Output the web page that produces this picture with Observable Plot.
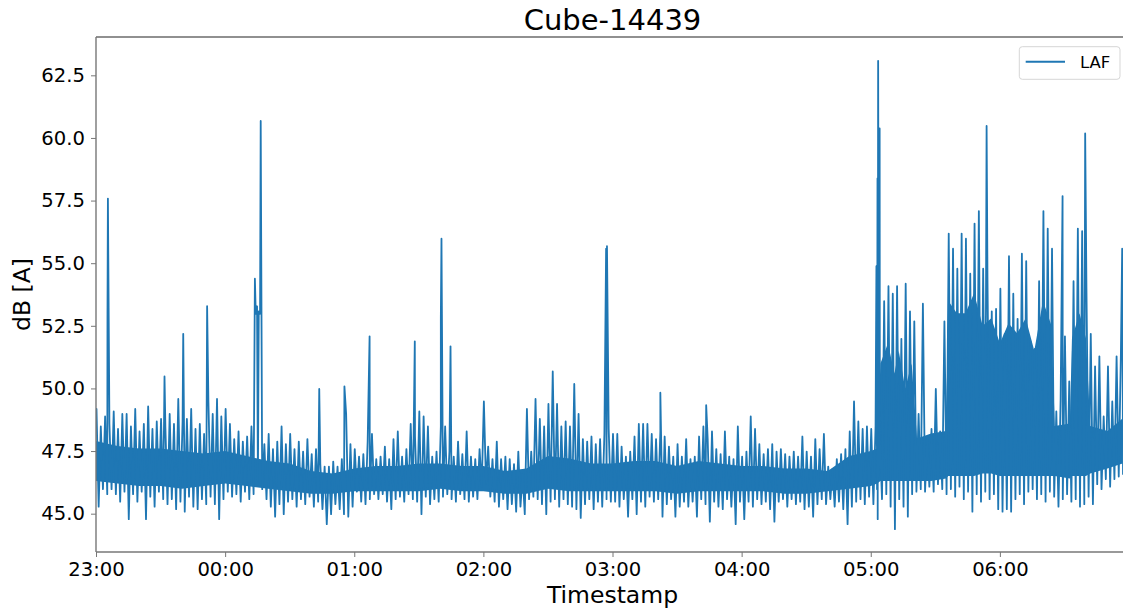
<!DOCTYPE html>
<html><head><meta charset="utf-8">
<script src="https://cdn.jsdelivr.net/npm/d3@7"></script>
<script src="https://cdn.jsdelivr.net/npm/@observablehq/plot@0.6"></script>
<style>
html,body{margin:0;padding:0;overflow:hidden;background:#fff;}
#chart{width:1123px;height:612px;overflow:hidden;}
#chart svg{max-width:none !important;width:1130px !important;height:612px !important;display:block;}
</style></head><body><div id="chart"></div>
<script>
// ---- texts ----
const chartTitle = "Cube-14439";
const seriesName = "LAF";
const xLabel = "Timestamp";
const yLabel = "dB [A]";
const xTickLabels = ["23:00","00:00","01:00","02:00","03:00","04:00","05:00","06:00"];
const yTicks = [45.0, 47.5, 50.0, 52.5, 55.0, 57.5, 60.0, 62.5];
const yDomain = [43.47, 64.03];

// ---- series: envelope of LAF read per 2-minute step (hi at minute 2k, lo at 2k+1), per hour from 23:00 ----
const hi23 = [49.2,48.5,48.9,48.6,49.1,48.4,49.0,49.0,48.5,49.2,48.3,48.6,49.3,48.4,48.7,48.8,48.5,49.0,48.6,49.6,48.7,48.8,49.2,48.4,48.6,48.2,49.5,49.0,49.6,48.9];
const lo23 = [45.3,46.0,45.8,46.0,45.8,45.5,45.9,44.8,45.8,45.5,45.9,44.8,45.7,45.3,45.9,45.6,45.4,45.6,45.2,45.5,45.1,45.7,45.3,45.2,45.6,45.4,45.7,45.4,44.8,45.6];
const hi00 = [49.2,48.6,48.0,48.3,47.9,48.1,48.5,53.0,53.0,47.8,48.2,47.6,47.9,48.5,47.8,48.2,47.6,47.9,47.5,48.0,47.4,47.6,47.0,46.9,46.9,47.1,46.9,47.2,49.0,47.8];
const lo00 = [45.9,45.7,45.8,45.5,45.9,45.6,45.8,46.3,46.0,45.6,45.3,44.9,45.4,45.0,45.5,45.6,45.3,45.6,45.4,45.7,45.3,45.5,45.2,44.6,45.0,45.4,45.2,45.0,44.9,45.3];
const hi01 = [47.6,47.3,47.4,47.9,48.2,47.2,47.3,47.7,47.2,48.0,48.3,47.3,47.6,48.6,48.1,49.1,48.9,48.5,47.3,47.5,48.5,48.5,47.5,47.3,47.9,47.4,48.3,47.3,47.2,47.6];
const lo01 = [45.9,45.5,45.4,45.6,45.8,45.6,45.8,45.5,45.2,45.6,45.7,45.5,45.8,45.6,45.5,45.0,45.7,45.4,45.6,45.5,45.7,45.8,45.6,45.5,45.8,45.6,45.5,45.7,45.6,46.1];
const hi02 = [49.5,47.7,47.2,47.9,47.2,47.3,47.2,47.0,47.5,46.6,49.2,47.5,49.6,48.8,48.5,49.4,50.7,49.4,48.5,48.7,48.5,50.2,49.0,48.0,47.9,48.1,47.8,48.0,48.2,48.4];
const lo02 = [46.2,45.7,45.5,45.3,45.6,45.2,45.4,45.1,45.3,45.0,45.6,45.7,45.6,45.4,45.0,45.5,45.6,45.3,45.6,45.4,45.3,45.2,44.85,45.4,45.6,45.2,45.5,45.3,45.6,45.5];
const hi03 = [48.2,48.2,47.7,47.3,47.5,48.1,48.6,48.6,48.6,48.2,48.0,48.3,48.1,47.7,47.3,47.8,47.3,48.0,47.2,47.3,48.1,48.5,48.0,48.3,47.6,47.4,48.3,47.3,47.2,48.5];
const lo03 = [45.5,45.3,45.6,44.9,45.6,45.0,45.5,45.3,45.7,45.5,45.6,44.9,45.4,45.6,44.9,45.3,45.5,45.3,45.5,44.9,45.6,45.4,44.7,45.5,45.3,45.2,45.6,45.3,44.6,45.5];
const hi04 = [47.3,47.5,48.9,48.4,47.8,47.4,47.6,47.8,47.5,47.6,47.4,47.3,47.5,47.3,48.1,47.5,47.3,48.0,47.6,48.2,46.9,46.8,47.2,47.4,47.6,48.3,49.5,48.7,48.4,48.5];
const lo04 = [44.8,45.5,45.3,45.6,45.4,45.5,45.2,44.7,45.5,45.6,45.3,45.6,45.4,45.5,45.2,45.3,44.9,45.4,45.6,45.4,45.6,45.3,45.5,45.2,44.6,45.3,45.5,45.6,45.4,45.7];
const hi05 = [48.4,48.5,48.0,53.5,54.1,53.8,54.1,52.0,54.2,53.1,52.7,49.0,53.4,48.0,48.4,50.0,48.3,52.7,56.2,55.6,54.8,56.2,56.0,54.6,56.6,57.1,54.8,54.5,53.1,53.2];
const lo05 = [45.4,44.8,45.6,45.8,45.3,44.4,45.6,45.3,44.9,45.8,45.9,46.0,45.9,46.1,45.9,46.2,46.0,45.8,46.0,45.7,46.1,45.6,45.9,45.1,45.8,45.5,45.9,45.6,45.8,45.2];
const hi06 = [54.0,52.2,55.3,53.8,52.8,55.4,55.1,51.9,51.6,54.3,57.1,56.4,55.6,49.1,49.6,52.1,50.3,54.3,56.4,56.3,54.0,52.2,50.9,51.3,48.9,50.9,49.5,51.3,51.4];
const lo06 = [45.1,45.2,45.1,45.6,45.8,45.4,45.9,46.0,45.6,45.8,45.5,45.9,45.7,45.3,45.6,45.8,45.5,45.6,45.3,45.4,45.7,45.4,46.2,46.0,46.4,46.1,46.4,46.5,46.6];

// isolated peaks: [minutes after 23:00, dB]
const spikes = [[5.1,52.8],[5.3,57.6],[31.6,50.5],[40.3,52.2],[51.4,53.3],[73.6,54.4],[74.6,53.3],[75.4,53.1],[76.3,60.7],
  [103.5,50.0],[115.2,50.1],[126.9,52.1],[147.9,51.9],[160.0,52.8],[160.3,56.0],[164.5,51.7],[236.8,55.6],[237.2,55.7],
  [262.0,49.85],[283.3,49.35],[362.4,54.9],[362.7,46.0],[362.9,58.4],[363.2,63.1],[363.6,46.5],[363.9,60.4],
  [413.6,60.5],[448.9,57.7],[459.4,60.2],[476.6,55.6]];

// dense (solid-looking) core of the trace: [minutes after 23:00], lower and upper edge
const coreMin = [0,10,20,30,40,50,60,70,80,90,100,110,120,130,140,150,160,170,180,190,200,210,220,230,240,250,260,270,280,290,300,310,320,330,340,350,360,
  363,364.5,368,371,373,376,379,381.5,388,395,396,400,404,408,412,416,420,424,428,432,436,440,444,445.5,452.5,453.5,457,460,462,470,477];
const coreLo = [46.3,46.2,46.1,46.1,46.0,46.1,46.2,46.1,46.0,45.9,45.8,45.8,45.9,45.9,45.9,45.9,46.0,45.9,45.9,45.8,45.8,46.0,45.9,45.9,45.9,45.9,45.9,45.8,45.9,45.9,45.9,45.9,45.8,45.8,45.9,46.0,46.1,
  46.2,46.3,46.3,46.3,46.3,46.3,46.3,46.3,46.3,46.4,46.5,46.5,46.5,46.5,46.6,46.6,46.5,46.5,46.5,46.5,46.5,46.5,46.5,46.5,46.4,46.5,46.5,46.5,46.6,46.8,47.0];
const coreHi = [47.9,47.7,47.6,47.6,47.5,47.4,47.5,47.3,47.1,47.0,46.7,46.6,46.8,46.9,46.9,47.0,47.0,46.9,46.9,46.7,46.8,47.3,47.2,47.0,47.0,47.1,47.1,46.9,47.1,47.0,46.9,46.9,46.8,46.8,46.7,47.3,47.5,
  47.6,51.0,51.8,50.6,51.5,50.0,51.0,48.0,48.2,48.3,53.5,53.0,53.0,53.8,52.5,52.8,51.8,52.6,52.2,52.8,51.5,53.5,52.5,48.5,48.6,52.0,53.0,52.0,48.5,48.3,48.8];

// ---- build tables ----
const t0 = Date.UTC(2021,0,1,23,0);
const t1 = Date.UTC(2021,0,2,7,0);
const blocks = [[0,hi23,lo23],[60,hi00,lo00],[120,hi01,lo01],[180,hi02,lo02],[240,hi03,lo03],[300,hi04,lo04],[360,hi05,lo05],[420,hi06,lo06]];
const rows = [];
for (const [off, hi, lo] of blocks) {
  hi.forEach((v, k) => { rows.push({m: off + 2*k, v}); rows.push({m: off + 2*k + 1, v: lo[k]}); });
}
for (const [m, v] of spikes) rows.push({m, v});
rows.sort((a, b) => a.m - b.m);
rows.forEach(d => d.t = new Date(t0 + d.m * 60000));
const core = coreMin.map((m, i) => ({t: new Date(t0 + m * 60000), lo: coreLo[i], hi: coreHi[i]}));
const xTicks = xTickLabels.map((s, i) => new Date(t0 + i * 3600000));

const fmtTime = d3.utcFormat("%H:%M");
const plot = Plot.plot({
  width: 1130, height: 612,
  marginLeft: 96, marginRight: 1, marginTop: 37, marginBottom: 60,
  style: {fontFamily: "DejaVu Sans, sans-serif", fontSize: "19.6px", color: "#000", background: "#fff", overflow: "visible"},
  x: {type: "utc", domain: [new Date(t0), new Date(t1)]},
  y: {domain: yDomain},
  marks: [
    Plot.areaY(core, {x: "t", y1: "lo", y2: "hi", fill: "#1f77b4", curve: "linear", clip: true}),
    Plot.lineY(rows, {x: "t", y: "v", stroke: "#1f77b4", strokeWidth: 1.8, clip: true}),
    Plot.axisX(xTicks, {tickFormat: fmtTime, tickSize: 5, tickPadding: 5, stroke: "#777", label: null, fontSize: 19.6}),
    Plot.axisY(yTicks, {tickFormat: d3.format(".1f"), tickSize: 5, tickPadding: 6.5, stroke: "#777", label: null, fontSize: 19.6})
  ]
});
document.getElementById("chart").appendChild(plot);

// ---- frame, titles, legend ----
const svg = d3.select(plot);
const [x0, x1] = plot.scale("x").range;
const [yb, yt] = plot.scale("y").range;
const g = svg.append("g");
g.append("line").attr("x1", x0).attr("x2", x1).attr("y1", yt).attr("y2", yt).attr("stroke", "#222").attr("stroke-width", 1.2);
g.append("line").attr("x1", x1).attr("x2", x1).attr("y1", yt).attr("y2", yb).attr("stroke", "#222").attr("stroke-width", 1.2);
g.append("line").attr("x1", x0).attr("x2", x0).attr("y1", yt).attr("y2", yb).attr("stroke", "#777").attr("stroke-width", 1.4);
g.append("line").attr("x1", x0).attr("x2", x1).attr("y1", yb).attr("y2", yb).attr("stroke", "#777").attr("stroke-width", 1.4);

const cx = (x0 + x1) / 2;
g.append("text").text(chartTitle).attr("x", cx).attr("y", 30).attr("text-anchor", "middle")
  .attr("font-family", "DejaVu Sans").attr("font-size", 29).attr("fill", "#000");
g.append("text").text(xLabel).attr("x", cx).attr("y", 602.5).attr("text-anchor", "middle")
  .attr("font-family", "DejaVu Sans").attr("font-size", 23.5).attr("fill", "#000");
g.append("text").text(yLabel).attr("transform", `translate(29.5,${(yt + yb) / 2}) rotate(-90)`).attr("text-anchor", "middle")
  .attr("font-family", "DejaVu Sans").attr("font-size", 23.5).attr("fill", "#000");

const lg = g.append("g").attr("transform", `translate(${x1 - 109.7},${yt + 9.7})`);
lg.append("rect").attr("x", 0).attr("y", 0).attr("width", 100.7).attr("height", 32.6).attr("rx", 3)
  .attr("fill", "#fff").attr("fill-opacity", 0.8).attr("stroke", "#d6d6d6").attr("stroke-width", 1);
lg.append("line").attr("x1", 6.4).attr("x2", 45.7).attr("y1", 15).attr("y2", 15).attr("stroke", "#1f77b4").attr("stroke-width", 2);
lg.append("text").text(seriesName).attr("x", 60.7).attr("y", 21.3).attr("text-anchor", "start")
  .attr("font-family", "DejaVu Sans").attr("font-size", 16.5).attr("fill", "#000");
</script></body></html>
